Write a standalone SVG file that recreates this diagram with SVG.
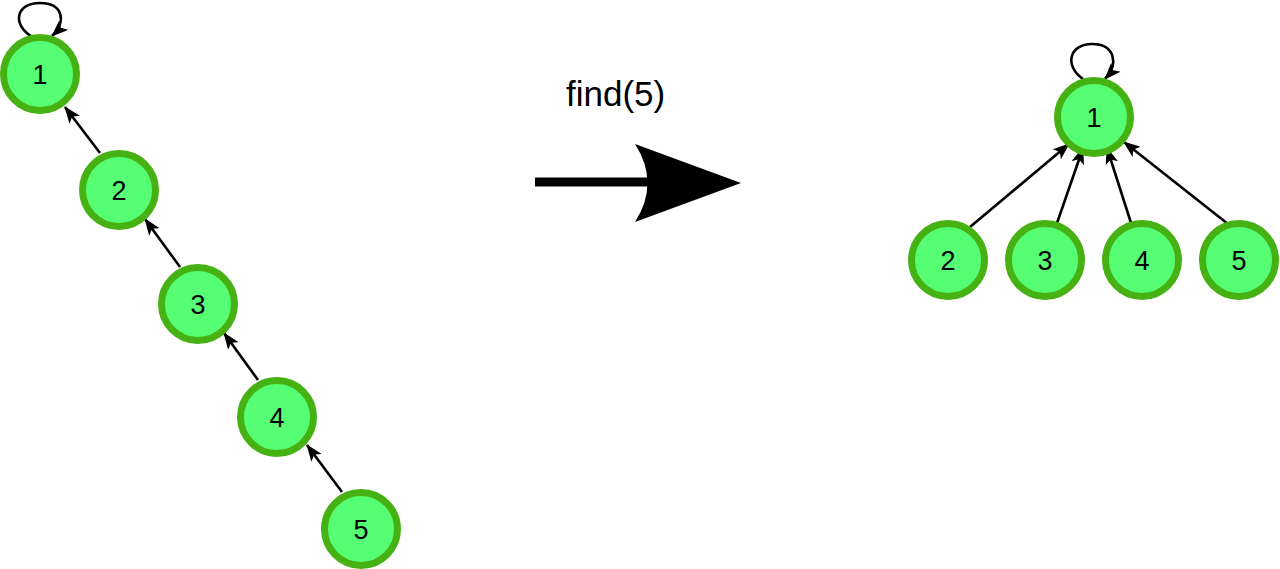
<svg xmlns="http://www.w3.org/2000/svg" width="1280" height="569" viewBox="0 0 1280 569">
<style>
.node circle{fill:#55fe72;stroke:#46b112;stroke-width:7}
.node text{font-family:"Liberation Sans",Arial,sans-serif;font-size:27px;fill:#000;text-anchor:middle}
.edge{fill:none;stroke:#000;stroke-width:2.6;marker-end:url(#ah)}
.label{font-family:"Liberation Sans",Arial,sans-serif;font-size:35px;fill:#000}
</style>
<defs>
<marker id="ah" markerUnits="userSpaceOnUse" viewBox="0 0 17 13" refX="16" refY="6.5" markerWidth="17" markerHeight="13" orient="auto">
<path d="M0,0 L17,6.5 L0,13 L4,6.5 Z" fill="#000"/>
</marker>
</defs>
<rect width="1280" height="569" fill="#fff"/>
<g id="connectors">
<path class="edge" d="M31,36 C12,24 16,3 40,3 C63,3 67,22 52,36"/>
<path class="edge" d="M100,153 L65,107"/>
<path class="edge" d="M180,267 L145,219"/>
<path class="edge" d="M258,380 L224,333"/>
<path class="edge" d="M342,492 L307,445"/>
<path class="edge" d="M1083,79 C1064,66 1069,44 1092,44 C1115,44 1119,64 1105,79"/>
<path class="edge" d="M970,227 L1069,144"/>
<path class="edge" d="M1056,226 L1083,148"/>
<path class="edge" d="M1132,226 L1107,148"/>
<path class="edge" d="M1228,224 L1124,142"/>
</g>
<g id="transform-arrow">
<line x1="535" y1="182" x2="650" y2="182" stroke="#000" stroke-width="9"/>
<path d="M635,144 L741,183 L635,222 Q660,183 635,144 Z" fill="#000"/>
<text class="label" x="566" y="106">find(5)</text>
</g>
<g id="L1" class="node"><circle cx="40" cy="74" r="36.5"/><text x="40" y="84">1</text></g>
<g id="L2" class="node"><circle cx="119" cy="190" r="36.5"/><text x="119" y="200">2</text></g>
<g id="L3" class="node"><circle cx="198" cy="304" r="36.5"/><text x="198" y="314">3</text></g>
<g id="L4" class="node"><circle cx="277" cy="417" r="36.5"/><text x="277" y="427">4</text></g>
<g id="L5" class="node"><circle cx="361" cy="529" r="36.5"/><text x="361" y="539">5</text></g>
<g id="R1" class="node"><circle cx="1094" cy="117" r="36.5"/><text x="1094" y="127">1</text></g>
<g id="R2" class="node"><circle cx="948" cy="260" r="36.5"/><text x="948" y="270">2</text></g>
<g id="R3" class="node"><circle cx="1045" cy="260" r="36.5"/><text x="1045" y="270">3</text></g>
<g id="R4" class="node"><circle cx="1142" cy="260" r="36.5"/><text x="1142" y="270">4</text></g>
<g id="R5" class="node"><circle cx="1239" cy="260" r="36.5"/><text x="1239" y="270">5</text></g>
</svg>
